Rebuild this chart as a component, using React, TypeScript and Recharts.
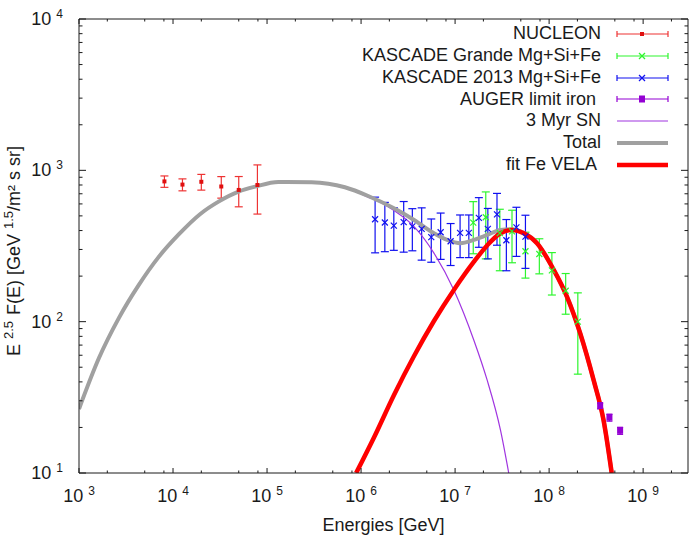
import React from "react";
import { ComposedChart, Line, Scatter, ErrorBar, XAxis, YAxis, Label } from "recharts";

// axis ticks (log axes, values in GeV and E^2.5 F(E))
const X_TICKS = [
  1e3, 2e3, 5e3, 8e3, 1e4, 2e4, 5e4, 8e4, 1e5, 2e5, 5e5, 8e5, 1e6, 2e6, 5e6, 8e6,
  1e7, 2e7, 5e7, 8e7, 1e8, 2e8, 5e8, 8e8, 1e9, 2e9,
];
const Y_TICKS = [
  10, 20, 30, 40, 50, 60, 70, 80, 90, 100, 200, 300, 400, 500, 600, 700, 800, 900,
  1000, 2000, 3000, 4000, 5000, 6000, 7000, 8000, 9000, 10000,
];

// NUCLEON
const NUCLEON_E = [8.1e3, 1.26e4, 2.0e4, 3.26e4, 5.0e4, 7.9e4];
const NUCLEON_V = [845, 805, 840, 782, 742, 800];
const NUCLEON_ERR = [73, 73, 100, 127, 168, 286];

// KASCADE Grande Mg+Si+Fe
const GRANDE_E = [1.56e7, 2.12e7, 2.99e7, 4.03e7, 5.6e7, 7.87e7, 1.07e8, 1.5e8, 2.02e8];
const GRANDE_V = [451, 490, 385, 395, 292, 280, 218, 160, 100];
const GRANDE_ERR = [170, 230, 168, 150, 98, 73, 68, 48, 55];

// KASCADE 2013 Mg+Si+Fe
const K2013_E = [
  1.41e6, 1.79e6, 2.23e6, 2.84e6, 3.51e6, 4.41e6, 5.58e6, 7.02e6, 8.96e6, 1.13e7,
  1.4e7, 1.79e7, 2.23e7, 2.79e7, 3.51e7, 4.49e7, 5.6e7,
];
const K2013_V = [475, 452, 431, 455, 426, 410, 362, 390, 340, 386, 386, 485, 410, 512, 345, 420, 365];
const K2013_ERR = [190, 162, 135, 167, 132, 155, 115, 132, 105, 121, 121, 175, 150, 192, 128, 150, 140];

// AUGER limit iron
const AUGER_E = [3.49e8, 4.38e8, 5.69e8];
const AUGER_V = [27.7, 23.2, 19.0];
const AUGER_ERR = [1.2, 1.2, 1.0];

// 3 Myr SN
const SN_E = [
  1e3, 1.63e3, 2.66e3, 4.33e3, 7.05e3, 1.15e4, 1.95e4, 3.05e4, 4.98e4, 7.48e4, 1.32e5,
  2.98e5, 6.73e5, 1.19e6, 1.38e6, 2.24e6, 3.66e6, 5.96e6, 9.7e6, 1.58e7, 2.19e7,
  3.04e7, 3.72e7,
];
const SN_V = [
  26.5, 57.5, 106, 175, 268, 377, 515, 621, 723, 780, 838, 834, 773, 665, 642, 542, 425,
  284, 162, 75.7, 41.2, 19.2, 10,
];

// Total
const TOTAL_E = [
  1e3, 1.63e3, 2.66e3, 4.33e3, 7.05e3, 1.15e4, 1.95e4, 3.05e4, 4.98e4, 7.48e4, 1.32e5,
  2.98e5, 6.73e5, 1.19e6, 2.24e6, 3.66e6, 5.96e6, 8.24e6, 1.14e7, 1.58e7, 2.19e7, 3.04e7,
  4.04e7, 5.37e7, 7.43e7, 1.12e8, 1.55e8, 2.14e8, 2.97e8, 3.79e8, 4.63e8,
];
const TOTAL_V = [
  26.5, 57.5, 106, 175, 268, 377, 515, 621, 723, 780, 838, 834, 773, 677, 561, 470, 384,
  347, 330, 347, 374, 404, 408, 386, 331, 220, 146, 83.8, 41.2, 22.4, 10,
];

// fit Fe VELA
const FE_E = [
  8.87e5, 1.38e6, 2.24e6, 3.66e6, 5.96e6, 9.7e6, 1.58e7, 2.19e7, 3.04e7, 4.04e7, 5.37e7,
  7.43e7, 1.12e8, 1.55e8, 2.14e8, 2.97e8, 3.79e8, 4.63e8,
];
const FE_V = [10, 17.3, 32.8, 59.3, 101, 162, 248, 319, 384, 404, 384, 330, 220, 146, 83.8, 41.2, 22.4, 10];

const FONT = "'Liberation Sans', Arial, Helvetica, sans-serif";
const INK = "#1a1a1a";

const RED = "#ff0000";
const GREEN = "#2ef52e";
const BLUE = "#1010f0";
const VIOLET = "#9400d3";
const SN_COLOR = "#a035e0";
const GRAY = "#a0a0a0";

type Pt = { e: number; v: number; err?: number };
const toPoints = (e: number[], v: number[], err?: number[]): Pt[] =>
  e.map((x, i) => ({ e: x, v: v[i], err: err ? err[i] : undefined }));

const nucleon = toPoints(NUCLEON_E, NUCLEON_V, NUCLEON_ERR);
const grande = toPoints(GRANDE_E, GRANDE_V, GRANDE_ERR);
const k2013 = toPoints(K2013_E, K2013_V, K2013_ERR);
const auger = toPoints(AUGER_E, AUGER_V, AUGER_ERR);
const sn = toPoints(SN_E, SN_V);
const total = toPoints(TOTAL_E, TOTAL_V);
const fe = toPoints(FE_E, FE_V);

const expOf = (v: number) => Math.round(Math.log10(v));
const isMajor = (v: number) => Math.abs(Math.log10(v) - expOf(v)) < 1e-6;

function Power({ x, y, exp, anchor }: { x: number; y: number; exp: number; anchor: "middle" | "end" }) {
  return (
    <text x={x} y={y} textAnchor={anchor} fontFamily={FONT} fontSize={18} fill={INK}>
      10
      <tspan dx={5} dy={-7} fontSize={12}>
        {exp}
      </tspan>
    </text>
  );
}

// custom ticks: gnuplot-style inward ticks, labels only on decades
const BottomTick = (p: any) => {
  const v = p.payload.value;
  const major = isMajor(v);
  return (
    <g>
      <line x1={p.x} x2={p.x} y1={p.y} y2={p.y - (major ? 5 : 2.5)} stroke={INK} />
      {major && <Power x={p.x} y={p.y + 29} exp={expOf(v)} anchor="middle" />}
    </g>
  );
};

const TopTick = (p: any) => {
  const major = isMajor(p.payload.value);
  return <line x1={p.x} x2={p.x} y1={p.y} y2={p.y + (major ? 5 : 2.5)} stroke={INK} />;
};

const LeftTick = (p: any) => {
  const v = p.payload.value;
  const major = isMajor(v);
  return (
    <g>
      <line x1={p.x} x2={p.x + (major ? 7 : 3.5)} y1={p.y} y2={p.y} stroke={INK} />
      {major && <Power x={p.x - 16} y={p.y + 6} exp={expOf(v)} anchor="end" />}
    </g>
  );
};

const RightTick = (p: any) => {
  const major = isMajor(p.payload.value);
  return <line x1={p.x} x2={p.x - (major ? 7 : 3.5)} y1={p.y} y2={p.y} stroke={INK} />;
};

const XTitle = (p: any) => {
  const vb = p.viewBox;
  return (
    <text x={vb.x + vb.width / 2} y={vb.y + 58} textAnchor="middle" fontFamily={FONT} fontSize={18} fill={INK}>
      Energies [GeV]
    </text>
  );
};

const YTitle = (p: any) => {
  const vb = p.viewBox;
  const x = vb.x + vb.width - 59;
  const y = vb.y + vb.height / 2 + 5;
  return (
    <text
      x={x}
      y={y}
      transform={`rotate(-90 ${x} ${y})`}
      textAnchor="middle"
      fontFamily={FONT}
      fontSize={18}
      fill={INK}
    >
      E
      <tspan dx={5} dy={-7} fontSize={13}>2.5</tspan>
      <tspan dx={6} dy={7}>F(E) [GeV</tspan>
      <tspan dx={5} dy={-7} fontSize={13}>1.5</tspan>
      <tspan dy={7}>/m² s sr]</tspan>
    </text>
  );
};

const dotShape = (p: any) => <rect x={p.cx - 2} y={p.cy - 2} width={4} height={4} fill="#e01010" />;
const crossShape = (color: string) => (p: any) => (
  <g stroke={color} strokeWidth={1.2}>
    <line x1={p.cx - 3} y1={p.cy - 3} x2={p.cx + 3} y2={p.cy + 3} />
    <line x1={p.cx - 3} y1={p.cy + 3} x2={p.cx + 3} y2={p.cy - 3} />
  </g>
);
const squareShape = (p: any) => <rect x={p.cx - 3} y={p.cy - 4} width={6} height={7} fill={VIOLET} />;

type LegendRow = { name: string; color: string; kind: "dot" | "cross" | "square" | "line"; width: number };
const LEGEND: LegendRow[] = [
  { name: "NUCLEON", color: "#ee3333", kind: "dot", width: 1.2 },
  { name: "KASCADE Grande Mg+Si+Fe", color: GREEN, kind: "cross", width: 1.2 },
  { name: "KASCADE 2013 Mg+Si+Fe", color: BLUE, kind: "cross", width: 1.2 },
  { name: "AUGER limit iron ", color: VIOLET, kind: "square", width: 1.2 },
  { name: "3 Myr SN", color: SN_COLOR, kind: "line", width: 1.2 },
  { name: "Total", color: GRAY, kind: "line", width: 4 },
  { name: "fit Fe VELA ", color: RED, kind: "line", width: 4.5 },
];

function LegendSample({ row }: { row: LegendRow }) {
  const c = row.color;
  return (
    <svg width={70} height={22} style={{ display: "block" }}>
      <line x1={16} x2={67} y1={11} y2={11} stroke={c} strokeWidth={row.width} />
      {row.kind !== "line" && (
        <g stroke={c} strokeWidth={1.2}>
          <line x1={16} x2={16} y1={8} y2={14} />
          <line x1={67} x2={67} y1={8} y2={14} />
        </g>
      )}
      {row.kind === "dot" && <rect x={39} y={9} width={4} height={4} fill="#e01010" />}
      {row.kind === "cross" && (
        <g stroke={c} strokeWidth={1.2}>
          <line x1={38} y1={8} x2={44} y2={14} />
          <line x1={38} y1={14} x2={44} y2={8} />
        </g>
      )}
      {row.kind === "square" && <rect x={38} y={7.5} width={6} height={7} fill={c} />}
    </svg>
  );
}

export default function App() {
  return (
    <div style={{ position: "absolute", left: 0, top: 0, width: 690, height: 536, background: "#fff" }}>
      <ComposedChart width={690} height={536} margin={{ top: 18, right: 1, bottom: 33, left: 19 }}>
        <XAxis
          type="number"
          dataKey="e"
          scale="log"
          domain={[1e3, 3e9]}
          allowDataOverflow
          ticks={X_TICKS}
          interval={0}
          tick={BottomTick}
          tickLine={false}
          tickSize={0}
          tickMargin={0}
          height={30}
          axisLine={{ stroke: INK }}
        >
          <Label content={XTitle} />
        </XAxis>
        <XAxis
          xAxisId="top"
          orientation="top"
          type="number"
          dataKey="e"
          scale="log"
          domain={[1e3, 3e9]}
          allowDataOverflow
          ticks={X_TICKS}
          interval={0}
          tick={TopTick}
          tickLine={false}
          tickSize={0}
          tickMargin={0}
          height={1}
          axisLine={{ stroke: INK }}
        />
        <YAxis
          type="number"
          dataKey="v"
          scale="log"
          domain={[10, 1e4]}
          allowDataOverflow
          ticks={Y_TICKS}
          interval={0}
          tick={LeftTick}
          tickLine={false}
          tickSize={0}
          tickMargin={0}
          width={60}
          axisLine={{ stroke: INK }}
        >
          <Label content={YTitle} />
        </YAxis>
        <YAxis
          yAxisId="right"
          orientation="right"
          type="number"
          dataKey="v"
          scale="log"
          domain={[10, 1e4]}
          allowDataOverflow
          ticks={Y_TICKS}
          interval={0}
          tick={RightTick}
          tickLine={false}
          tickSize={0}
          tickMargin={0}
          width={1}
          axisLine={{ stroke: INK }}
        />

        <Scatter data={nucleon} dataKey="v" shape={dotShape} isAnimationActive={false}>
          <ErrorBar dataKey="err" direction="y" width={4} stroke="#ee3333" strokeWidth={1.2} />
        </Scatter>
        <Scatter data={grande} dataKey="v" shape={crossShape(GREEN)} isAnimationActive={false}>
          <ErrorBar dataKey="err" direction="y" width={4} stroke={GREEN} strokeWidth={1.2} />
        </Scatter>
        <Scatter data={k2013} dataKey="v" shape={crossShape(BLUE)} isAnimationActive={false}>
          <ErrorBar dataKey="err" direction="y" width={4} stroke={BLUE} strokeWidth={1.2} />
        </Scatter>
        <Scatter data={auger} dataKey="v" shape={squareShape} isAnimationActive={false}>
          <ErrorBar dataKey="err" direction="y" width={3} stroke={VIOLET} strokeWidth={1.2} />
        </Scatter>

        <Line data={sn} dataKey="v" type="monotone" stroke={SN_COLOR} strokeWidth={1.2} dot={false} activeDot={false} isAnimationActive={false} />
        <Line data={total} dataKey="v" type="monotone" stroke={GRAY} strokeWidth={4} dot={false} activeDot={false} isAnimationActive={false} />
        <Line data={fe} dataKey="v" type="monotone" stroke={RED} strokeWidth={4.5} dot={false} activeDot={false} isAnimationActive={false} />
      </ComposedChart>

      <div style={{ position: "absolute", left: 300, top: 23.4, fontFamily: FONT, fontSize: 18, color: INK }}>
        {LEGEND.map((row) => (
          <div key={row.name} style={{ display: "flex", alignItems: "center", height: 21.73 }}>
            <span style={{ width: 301, textAlign: "right", whiteSpace: "pre", lineHeight: "21.73px" }}>{row.name}</span>
            <LegendSample row={row} />
          </div>
        ))}
      </div>
    </div>
  );
}
